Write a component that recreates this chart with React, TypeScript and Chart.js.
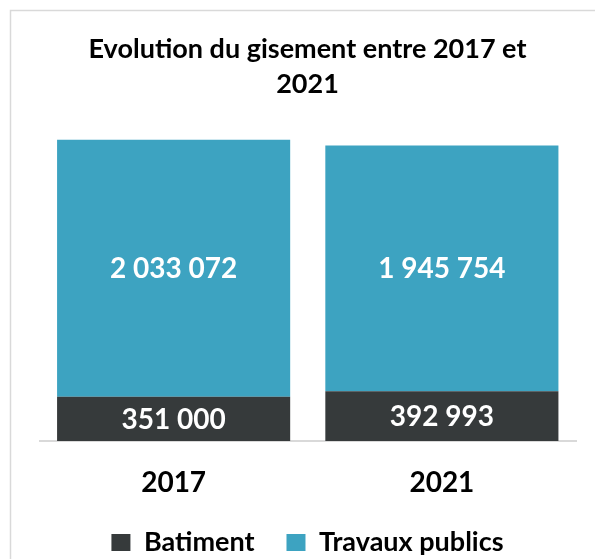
import { useEffect, useRef } from "react";
import { Chart, registerables } from "chart.js";

Chart.register(...registerables);

const categories = ["2017", "2021"];
const batiment = [351000, 392993];
const travauxPublics = [2033072, 1945754];
const seriesNames = ["Batiment", "Travaux publics"];
const titleLines = ["Evolution du gisement entre 2017 et", "2021"];
const yMax = 2500000;

const FONT = "Lato, 'Open Sans', sans-serif";
const DARK = "#363A3B";
const TEAL = "#3DA3C1";

const fmt = (v: number) => String(Math.round(v)).replace(/\B(?=(\d{3})+(?!\d))/g, " ");

const framePlugin = {
  id: "frame",
  beforeDraw(chart: any) {
    const { ctx, width, height } = chart;
    ctx.save();
    ctx.fillStyle = "#ffffff";
    ctx.fillRect(0, 0, width, height);
    ctx.strokeStyle = "#d9d9d9";
    ctx.lineWidth = 1.5;
    ctx.strokeRect(10.5, 10.5, width + 20, height + 20);
    ctx.restore();
  },
};

const valueLabels = {
  id: "valueLabels",
  afterDatasetsDraw(chart: any) {
    const { ctx } = chart;
    ctx.save();
    ctx.fillStyle = "#ffffff";
    ctx.font = `bold 28px ${FONT}`;
    ctx.textAlign = "center";
    ctx.textBaseline = "middle";
    chart.data.datasets.forEach((ds: any, di: number) => {
      const meta = chart.getDatasetMeta(di);
      meta.data.forEach((el: any, i: number) => {
        const { x, y, base } = el.getProps(["x", "y", "base"], true);
        ctx.fillText(fmt(ds.data[i]), x, (y + base) / 2 + 1);
      });
    });
    ctx.restore();
  },
};

export default function App() {
  const ref = useRef<HTMLCanvasElement>(null);
  useEffect(() => {
    if (!ref.current) return;
    const chart = new Chart(ref.current, {
      type: "bar",
      data: {
        labels: categories,
        datasets: [
          { label: seriesNames[0], data: batiment, backgroundColor: DARK },
          { label: seriesNames[1], data: travauxPublics, backgroundColor: TEAL },
        ],
      },
      options: {
        responsive: false,
        animation: false,
        layout: { padding: { left: 20, right: 0, top: 0, bottom: -7 } },
        datasets: { bar: { categoryPercentage: 1, barPercentage: 0.869 } },
        scales: {
          x: {
            stacked: true,
            grid: { display: false, drawTicks: false },
            border: { display: true, color: "#d9d9d9", width: 2 },
            ticks: { color: "#000", font: { family: FONT, size: 28, weight: "bold", lineHeight: 1 }, padding: 28 },
            afterFit: (s: any) => { s.height = 56; },
          },
          y: {
            stacked: true,
            min: 0,
            max: yMax,
            grid: { display: false, drawTicks: false },
            border: { display: false },
            ticks: { display: false },
            afterFit: (s: any) => { s.width = 19.5; },
          },
          y2: {
            position: "right",
            min: 0,
            max: yMax,
            grid: { display: false, drawTicks: false },
            border: { display: false },
            ticks: { display: false },
            afterFit: (s: any) => { s.width = 19; },
          },
        },
        plugins: {
          title: {
            display: true,
            text: titleLines,
            color: "#000",
            font: { family: FONT, size: 27, weight: "bold", lineHeight: 1.3 },
            padding: { top: 32, bottom: 23 },
          },
          legend: {
            position: "bottom",
            labels: {
              color: "#000",
              font: { family: FONT, size: 27, weight: "bold" },
              boxWidth: 19,
              boxHeight: 17,
              padding: 32,
            },
          },
          tooltip: { enabled: false },
        },
      },
      plugins: [framePlugin, valueLabels],
    });
    return () => chart.destroy();
  }, []);
  return (
    <div style={{ position: "fixed", left: 0, top: 0, width: 595, height: 559, overflow: "hidden" }}>
      <canvas ref={ref} width={595} height={559} style={{ display: "block" }} />
    </div>
  );
}
